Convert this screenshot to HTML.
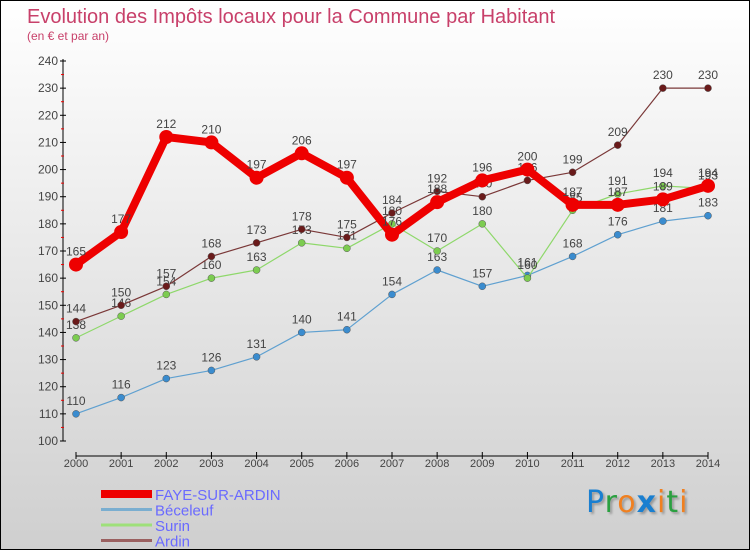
<!DOCTYPE html>
<html><head><meta charset="utf-8"><style>
body{margin:0}
#c{width:750px;height:550px;position:relative;box-sizing:border-box;border:1px solid #000;background:linear-gradient(#fff,#cfcfcf);font-family:"Liberation Sans",sans-serif;overflow:hidden}
text{font-family:"Liberation Sans",sans-serif}
</style></head><body>
<div id="c">
<svg id="s" width="750" height="550">
<text x="26" y="22" font-size="20" fill="#c8406a">Evolution des Impôts locaux pour la Commune par Habitant</text>
<text x="26" y="39" font-size="12" fill="#c8406a">(en € et par an)</text>
</svg>
<div style="position:absolute;left:585px;top:484px;font-size:30px;font-family:'DejaVu Sans',sans-serif;letter-spacing:1px;text-shadow:2px 2px 2px #999"><span style="color:#1a7fd0">P</span><span style="color:#2aa040">r</span><span style="color:#f08020">o</span><span style="color:#1a7fd0;font-weight:bold">x</span><span style="color:#f08020">i</span><span style="color:#2aa040">t</span><span style="color:#f08020">i</span></div>
</div>
<script>
const years=[2000,2001,2002,2003,2004,2005,2006,2007,2008,2009,2010,2011,2012,2013,2014];
const faye=[165,177,212,210,197,206,197,176,188,196,200,187,187,189,194];
const beceleuf=[110,116,123,126,131,140,141,154,163,157,161,168,176,181,183];
const surin=[138,146,154,160,163,173,171,180,170,180,160,185,191,194,193];
const ardin=[144,150,157,168,173,178,175,184,192,190,196,199,209,230,230];
const yTicks=[100,110,120,130,140,150,160,170,180,190,200,210,220,230,240];
const NS="http://www.w3.org/2000/svg";
const svg=document.getElementById('s');
const x=i=>75+i*(707-75)/(years.length-1);
const y=v=>440-(v-100)*380/140;
function mk(t,a){const e=document.createElementNS(NS,t);for(const k in a)e.setAttribute(k,a[k]);svg.appendChild(e);return e;}
let e=mk('line',{x1:62,y1:58,x2:62,y2:440,stroke:'#000'});


e=mk('line',{x1:75,y1:455,x2:707,y2:455,stroke:'#000'});


yTicks.forEach((v,i)=>{
 mk('line',{x1:59,x2:65,y1:y(v),y2:y(v),stroke:'#000'});
 if(i<yTicks.length-1)mk('line',{x1:60,x2:63,y1:y(v+5),y2:y(v+5),stroke:'#e00'});
 const t=mk('text',{x:57,y:y(v)+4,'text-anchor':'end','font-size':12,fill:'#444'});t.textContent=v;
 
 
});
years.forEach((yr,i)=>{
 mk('line',{x1:x(i),x2:x(i),y1:451,y2:458,stroke:'#000'});
 const t=mk('text',{x:x(i),y:466,'text-anchor':'middle','font-size':11,fill:'#444'});t.textContent=yr;
 
 
});
function series(d,col,w,r,ptcol,name){
 const p=mk('polyline',{points:d.map((v,i)=>x(i)+','+y(v)).join(' '),fill:'none',stroke:col,'stroke-width':w,'stroke-linejoin':'round'});
 
 
 d.forEach((v,i)=>{
  const c=mk('circle',{cx:x(i),cy:y(v),r:r,fill:ptcol,stroke:w>3?'none':'#555','stroke-width':0.5});
  
  
  const t=mk('text',{x:x(i),y:y(v)-9,'text-anchor':'middle','font-size':12,fill:'#444'});t.textContent=v;
  
  
 });
}
series(beceleuf,'#5fa0d0',1.2,3.5,'#3a8ccf','beceleuf');
series(surin,'#8ed86a',1.2,3.5,'#7ccc50','surin');
series(ardin,'#7a3838',1.2,3.5,'#6a1a1a','ardin');
series(faye,'#ee0000',8,7,'#ee0000','faye');
const leg=[['FAYE-SUR-ARDIN','#ee0000',8],['Béceleuf','#7aaed0',3],['Surin','#9ee07a',3],['Ardin','#9a6060',3]];
leg.forEach((l,i)=>{
 const yy=493+i*15.5;
 const ln=mk('line',{x1:100,x2:151,y1:yy,y2:yy,stroke:l[1],'stroke-width':l[2]});
 
 
 const t=mk('text',{x:154,y:yy+6,'font-size':15,fill:'#6a6aff'});t.textContent=l[0];
 
 
});
</script>
</body></html>
